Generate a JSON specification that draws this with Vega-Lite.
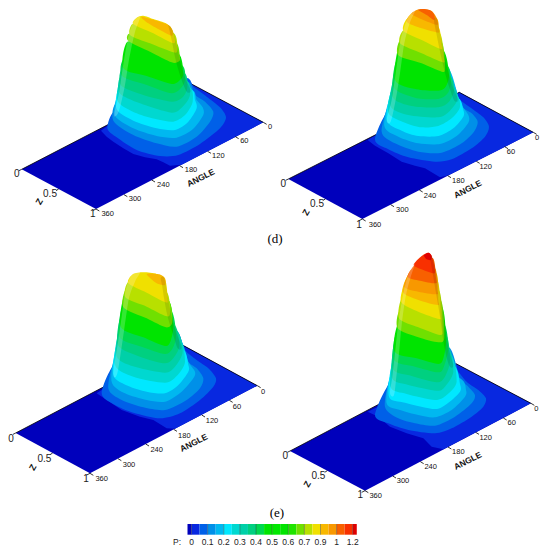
{"$schema":"https://vega.github.io/schema/vega-lite/v6.json","padding":0,"spacing":0,"config":{"view":{"stroke":null},"font":"Liberation Sans","header":{"title":null,"labels":false,"labelFontSize":0,"labelPadding":0,"titlePadding":0}},"datasets":{"surf":[
{"p":1,"k":0,"x":65,"y":508},{"p":1,"k":0,"x":288,"y":627},{"p":1,"k":0,"x":790,"y":367},{"p":1,"k":0,"x":567,"y":248},
{"p":1,"k":1,"x":303,"y":392},{"p":1,"k":1,"x":320,"y":410},{"p":1,"k":1,"x":340,"y":425},{"p":1,"k":1,"x":370,"y":445},{"p":1,"k":1,"x":400,"y":462},{"p":1,"k":1,"x":435,"y":472},{"p":1,"k":1,"x":470,"y":478},{"p":1,"k":1,"x":490,"y":487},{"p":1,"k":1,"x":510,"y":497},{"p":1,"k":1,"x":545,"y":494},{"p":1,"k":1,"x":790,"y":367},{"p":1,"k":1,"x":567,"y":248},{"p":1,"k":1,"x":335,"y":368},
{"p":1,"k":2,"x":322,"y":384},{"p":1,"k":2,"x":350,"y":412},{"p":1,"k":2,"x":410,"y":450},{"p":1,"k":2,"x":480,"y":468},{"p":1,"k":2,"x":535,"y":465},{"p":1,"k":2,"x":600,"y":432},{"p":1,"k":2,"x":660,"y":385},{"p":1,"k":2,"x":678,"y":352},{"p":1,"k":2,"x":660,"y":322},{"p":1,"k":2,"x":620,"y":290},{"p":1,"k":2,"x":582,"y":262},{"p":1,"k":2,"x":556,"y":235},{"p":1,"k":2,"x":450,"y":300},{"p":1,"k":2,"x":347,"y":330},
{"p":1,"k":3,"x":340,"y":362},{"p":1,"k":3,"x":400,"y":405},{"p":1,"k":3,"x":470,"y":430},{"p":1,"k":3,"x":530,"y":440},{"p":1,"k":3,"x":590,"y":410},{"p":1,"k":3,"x":630,"y":365},{"p":1,"k":3,"x":640,"y":335},{"p":1,"k":3,"x":615,"y":305},{"p":1,"k":3,"x":585,"y":285},{"p":1,"k":3,"x":560,"y":245},{"p":1,"k":3,"x":450,"y":300},{"p":1,"k":3,"x":352,"y":305},
{"p":1,"k":4,"x":346,"y":348},{"p":1,"k":4,"x":400,"y":385},{"p":1,"k":4,"x":470,"y":408},{"p":1,"k":4,"x":530,"y":413},{"p":1,"k":4,"x":578,"y":388},{"p":1,"k":4,"x":610,"y":345},{"p":1,"k":4,"x":608,"y":322},{"p":1,"k":4,"x":590,"y":300},{"p":1,"k":4,"x":572,"y":270},{"p":1,"k":4,"x":450,"y":300},{"p":1,"k":4,"x":356,"y":290},
{"p":1,"k":5,"x":350,"y":328},{"p":1,"k":5,"x":400,"y":362},{"p":1,"k":5,"x":470,"y":385},{"p":1,"k":5,"x":525,"y":390},{"p":1,"k":5,"x":565,"y":365},{"p":1,"k":5,"x":590,"y":325},{"p":1,"k":5,"x":585,"y":300},{"p":1,"k":5,"x":570,"y":268},{"p":1,"k":5,"x":450,"y":280},{"p":1,"k":5,"x":360,"y":265},
{"p":1,"k":6,"x":354,"y":305},{"p":1,"k":6,"x":410,"y":340},{"p":1,"k":6,"x":470,"y":358},{"p":1,"k":6,"x":520,"y":365},{"p":1,"k":6,"x":555,"y":345},{"p":1,"k":6,"x":578,"y":305},{"p":1,"k":6,"x":565,"y":258},{"p":1,"k":6,"x":450,"y":250},{"p":1,"k":6,"x":363,"y":245},
{"p":1,"k":7,"x":358,"y":278},{"p":1,"k":7,"x":420,"y":310},{"p":1,"k":7,"x":515,"y":338},{"p":1,"k":7,"x":550,"y":318},{"p":1,"k":7,"x":570,"y":285},{"p":1,"k":7,"x":558,"y":240},{"p":1,"k":7,"x":450,"y":230},{"p":1,"k":7,"x":366,"y":225},
{"p":1,"k":8,"x":362,"y":255},{"p":1,"k":8,"x":430,"y":285},{"p":1,"k":8,"x":515,"y":305},{"p":1,"k":8,"x":548,"y":292},{"p":1,"k":8,"x":562,"y":262},{"p":1,"k":8,"x":550,"y":215},{"p":1,"k":8,"x":450,"y":210},{"p":1,"k":8,"x":370,"y":200},
{"p":1,"k":9,"x":366,"y":228},{"p":1,"k":9,"x":440,"y":255},{"p":1,"k":9,"x":515,"y":280},{"p":1,"k":9,"x":545,"y":262},{"p":1,"k":9,"x":555,"y":238},{"p":1,"k":9,"x":545,"y":195},{"p":1,"k":9,"x":450,"y":180},{"p":1,"k":9,"x":373,"y":175},
{"p":1,"k":10,"x":370,"y":205},{"p":1,"k":10,"x":440,"y":228},{"p":1,"k":10,"x":515,"y":252},{"p":1,"k":10,"x":540,"y":240},{"p":1,"k":10,"x":550,"y":220},{"p":1,"k":10,"x":535,"y":160},{"p":1,"k":10,"x":450,"y":140},{"p":1,"k":10,"x":382,"y":125},
{"p":1,"k":14,"x":385,"y":123},{"p":1,"k":14,"x":450,"y":155},{"p":1,"k":14,"x":515,"y":187},{"p":1,"k":14,"x":535,"y":185},{"p":1,"k":14,"x":540,"y":175},{"p":1,"k":14,"x":527,"y":125},{"p":1,"k":14,"x":450,"y":110},{"p":1,"k":14,"x":390,"y":100},
{"p":1,"k":15,"x":390,"y":105},{"p":1,"k":15,"x":450,"y":130},{"p":1,"k":15,"x":520,"y":157},{"p":1,"k":15,"x":532,"y":150},{"p":1,"k":15,"x":522,"y":100},{"p":1,"k":15,"x":450,"y":85},{"p":1,"k":15,"x":400,"y":70},
{"p":1,"k":16,"x":400,"y":72},{"p":1,"k":16,"x":460,"y":100},{"p":1,"k":16,"x":522,"y":130},{"p":1,"k":16,"x":518,"y":92},{"p":1,"k":16,"x":500,"y":71},{"p":1,"k":16,"x":460,"y":57},{"p":1,"k":16,"x":430,"y":47},{"p":1,"k":16,"x":412,"y":52},
{"p":1,"k":17,"x":425,"y":50},{"p":1,"k":17,"x":500,"y":72},{"p":1,"k":17,"x":517,"y":90},{"p":1,"k":17,"x":515,"y":107},{"p":1,"k":17,"x":480,"y":90},{"p":1,"k":17,"x":445,"y":70},
{"p":2,"k":0,"x":40,"y":537},{"p":2,"k":0,"x":262,"y":657},{"p":2,"k":0,"x":775,"y":397},{"p":2,"k":0,"x":553,"y":277},
{"p":2,"k":1,"x":278,"y":420},{"p":2,"k":1,"x":300,"y":437},{"p":2,"k":1,"x":340,"y":460},{"p":2,"k":1,"x":380,"y":485},{"p":2,"k":1,"x":420,"y":497},{"p":2,"k":1,"x":450,"y":505},{"p":2,"k":1,"x":475,"y":520},{"p":2,"k":1,"x":495,"y":532},{"p":2,"k":1,"x":520,"y":526},{"p":2,"k":1,"x":775,"y":397},{"p":2,"k":1,"x":553,"y":277},{"p":2,"k":1,"x":310,"y":400},
{"p":2,"k":2,"x":300,"y":418},{"p":2,"k":2,"x":340,"y":448},{"p":2,"k":2,"x":400,"y":472},{"p":2,"k":2,"x":480,"y":485},{"p":2,"k":2,"x":530,"y":478},{"p":2,"k":2,"x":590,"y":445},{"p":2,"k":2,"x":630,"y":410},{"p":2,"k":2,"x":642,"y":380},{"p":2,"k":2,"x":625,"y":352},{"p":2,"k":2,"x":585,"y":322},{"p":2,"k":2,"x":548,"y":292},{"p":2,"k":2,"x":520,"y":225},{"p":2,"k":2,"x":430,"y":300},{"p":2,"k":2,"x":345,"y":325},
{"p":2,"k":3,"x":320,"y":395},{"p":2,"k":3,"x":360,"y":430},{"p":2,"k":3,"x":430,"y":455},{"p":2,"k":3,"x":500,"y":458},{"p":2,"k":3,"x":560,"y":430},{"p":2,"k":3,"x":597,"y":395},{"p":2,"k":3,"x":608,"y":365},{"p":2,"k":3,"x":590,"y":340},{"p":2,"k":3,"x":560,"y":318},{"p":2,"k":3,"x":525,"y":240},{"p":2,"k":3,"x":430,"y":280},{"p":2,"k":3,"x":350,"y":300},
{"p":2,"k":4,"x":328,"y":378},{"p":2,"k":4,"x":370,"y":410},{"p":2,"k":4,"x":430,"y":430},{"p":2,"k":4,"x":495,"y":432},{"p":2,"k":4,"x":545,"y":408},{"p":2,"k":4,"x":580,"y":368},{"p":2,"k":4,"x":580,"y":345},{"p":2,"k":4,"x":555,"y":305},{"p":2,"k":4,"x":515,"y":200},{"p":2,"k":4,"x":430,"y":280},{"p":2,"k":4,"x":353,"y":280},
{"p":2,"k":5,"x":335,"y":360},{"p":2,"k":5,"x":380,"y":392},{"p":2,"k":5,"x":430,"y":408},{"p":2,"k":5,"x":490,"y":408},{"p":2,"k":5,"x":535,"y":385},{"p":2,"k":5,"x":565,"y":350},{"p":2,"k":5,"x":565,"y":330},{"p":2,"k":5,"x":545,"y":290},{"p":2,"k":5,"x":430,"y":270},{"p":2,"k":5,"x":356,"y":260},
{"p":2,"k":6,"x":340,"y":338},{"p":2,"k":6,"x":390,"y":368},{"p":2,"k":6,"x":440,"y":382},{"p":2,"k":6,"x":490,"y":378},{"p":2,"k":6,"x":530,"y":355},{"p":2,"k":6,"x":555,"y":320},{"p":2,"k":6,"x":538,"y":278},{"p":2,"k":6,"x":430,"y":250},{"p":2,"k":6,"x":356,"y":260},
{"p":2,"k":7,"x":346,"y":318},{"p":2,"k":7,"x":400,"y":345},{"p":2,"k":7,"x":490,"y":352},{"p":2,"k":7,"x":525,"y":332},{"p":2,"k":7,"x":547,"y":298},{"p":2,"k":7,"x":530,"y":255},{"p":2,"k":7,"x":430,"y":230},{"p":2,"k":7,"x":360,"y":235},
{"p":2,"k":8,"x":352,"y":290},{"p":2,"k":8,"x":410,"y":318},{"p":2,"k":8,"x":490,"y":322},{"p":2,"k":8,"x":522,"y":305},{"p":2,"k":8,"x":537,"y":270},{"p":2,"k":8,"x":522,"y":225},{"p":2,"k":8,"x":430,"y":210},{"p":2,"k":8,"x":365,"y":200},
{"p":2,"k":9,"x":356,"y":262},{"p":2,"k":9,"x":420,"y":293},{"p":2,"k":9,"x":490,"y":297},{"p":2,"k":9,"x":518,"y":280},{"p":2,"k":9,"x":528,"y":245},{"p":2,"k":9,"x":515,"y":195},{"p":2,"k":9,"x":430,"y":190},{"p":2,"k":9,"x":368,"y":175},
{"p":2,"k":10,"x":360,"y":240},{"p":2,"k":10,"x":425,"y":268},{"p":2,"k":10,"x":490,"y":272},{"p":2,"k":10,"x":512,"y":260},{"p":2,"k":10,"x":522,"y":225},{"p":2,"k":10,"x":505,"y":150},{"p":2,"k":10,"x":430,"y":120},{"p":2,"k":10,"x":376,"y":125},
{"p":2,"k":14,"x":369,"y":165},{"p":2,"k":14,"x":440,"y":190},{"p":2,"k":14,"x":500,"y":215},{"p":2,"k":14,"x":510,"y":205},{"p":2,"k":14,"x":500,"y":125},{"p":2,"k":14,"x":440,"y":110},{"p":2,"k":14,"x":379,"y":115},
{"p":2,"k":15,"x":375,"y":130},{"p":2,"k":15,"x":440,"y":160},{"p":2,"k":15,"x":503,"y":187},{"p":2,"k":15,"x":507,"y":175},{"p":2,"k":15,"x":495,"y":100},{"p":2,"k":15,"x":440,"y":85},{"p":2,"k":15,"x":386,"y":90},
{"p":2,"k":16,"x":385,"y":92},{"p":2,"k":16,"x":440,"y":120},{"p":2,"k":16,"x":497,"y":147},{"p":2,"k":16,"x":500,"y":135},{"p":2,"k":16,"x":490,"y":80},{"p":2,"k":16,"x":440,"y":60},{"p":2,"k":16,"x":398,"y":55},
{"p":2,"k":17,"x":395,"y":65},{"p":2,"k":17,"x":440,"y":85},{"p":2,"k":17,"x":490,"y":98},{"p":2,"k":17,"x":492,"y":85},{"p":2,"k":17,"x":485,"y":55},{"p":2,"k":17,"x":440,"y":45},{"p":2,"k":17,"x":412,"y":38},
{"p":2,"k":18,"x":410,"y":42},{"p":2,"k":18,"x":440,"y":58},{"p":2,"k":18,"x":487,"y":75},{"p":2,"k":18,"x":484,"y":52},{"p":2,"k":18,"x":470,"y":33},{"p":2,"k":18,"x":445,"y":27},{"p":2,"k":18,"x":425,"y":30},
{"p":2,"k":19,"x":430,"y":30},{"p":2,"k":19,"x":455,"y":45},{"p":2,"k":19,"x":477,"y":60},{"p":2,"k":19,"x":478,"y":45},{"p":2,"k":19,"x":468,"y":32},{"p":2,"k":19,"x":448,"y":27},
{"p":3,"k":0,"x":47,"y":549},{"p":3,"k":0,"x":270,"y":670},{"p":3,"k":0,"x":772,"y":407},{"p":3,"k":0,"x":549,"y":286},
{"p":3,"k":1,"x":290,"y":430},{"p":3,"k":1,"x":320,"y":450},{"p":3,"k":1,"x":365,"y":480},{"p":3,"k":1,"x":420,"y":500},{"p":3,"k":1,"x":460,"y":510},{"p":3,"k":1,"x":500,"y":535},{"p":3,"k":1,"x":525,"y":536},{"p":3,"k":1,"x":772,"y":407},{"p":3,"k":1,"x":549,"y":286},{"p":3,"k":1,"x":327,"y":405},
{"p":3,"k":2,"x":305,"y":430},{"p":3,"k":2,"x":345,"y":465},{"p":3,"k":2,"x":400,"y":488},{"p":3,"k":2,"x":480,"y":505},{"p":3,"k":2,"x":540,"y":490},{"p":3,"k":2,"x":600,"y":450},{"p":3,"k":2,"x":640,"y":410},{"p":3,"k":2,"x":648,"y":385},{"p":3,"k":2,"x":625,"y":355},{"p":3,"k":2,"x":590,"y":330},{"p":3,"k":2,"x":555,"y":300},{"p":3,"k":2,"x":525,"y":240},{"p":3,"k":2,"x":430,"y":300},{"p":3,"k":2,"x":345,"y":340},
{"p":3,"k":3,"x":325,"y":415},{"p":3,"k":3,"x":365,"y":450},{"p":3,"k":3,"x":430,"y":472},{"p":3,"k":3,"x":495,"y":480},{"p":3,"k":3,"x":560,"y":450},{"p":3,"k":3,"x":600,"y":415},{"p":3,"k":3,"x":610,"y":385},{"p":3,"k":3,"x":590,"y":355},{"p":3,"k":3,"x":560,"y":330},{"p":3,"k":3,"x":530,"y":250},{"p":3,"k":3,"x":430,"y":300},{"p":3,"k":3,"x":350,"y":320},
{"p":3,"k":4,"x":335,"y":395},{"p":3,"k":4,"x":375,"y":430},{"p":3,"k":4,"x":440,"y":450},{"p":3,"k":4,"x":495,"y":455},{"p":3,"k":4,"x":545,"y":425},{"p":3,"k":4,"x":580,"y":385},{"p":3,"k":4,"x":585,"y":365},{"p":3,"k":4,"x":565,"y":335},{"p":3,"k":4,"x":535,"y":265},{"p":3,"k":4,"x":430,"y":290},{"p":3,"k":4,"x":352,"y":300},
{"p":3,"k":5,"x":340,"y":375},{"p":3,"k":5,"x":385,"y":408},{"p":3,"k":5,"x":440,"y":425},{"p":3,"k":5,"x":495,"y":430},{"p":3,"k":5,"x":535,"y":405},{"p":3,"k":5,"x":565,"y":365},{"p":3,"k":5,"x":565,"y":345},{"p":3,"k":5,"x":545,"y":295},{"p":3,"k":5,"x":430,"y":270},{"p":3,"k":5,"x":355,"y":275},
{"p":3,"k":6,"x":345,"y":345},{"p":3,"k":6,"x":400,"y":380},{"p":3,"k":6,"x":495,"y":398},{"p":3,"k":6,"x":530,"y":378},{"p":3,"k":6,"x":555,"y":335},{"p":3,"k":6,"x":535,"y":262},{"p":3,"k":6,"x":430,"y":250},{"p":3,"k":6,"x":360,"y":245},
{"p":3,"k":7,"x":350,"y":320},{"p":3,"k":7,"x":410,"y":352},{"p":3,"k":7,"x":495,"y":368},{"p":3,"k":7,"x":525,"y":350},{"p":3,"k":7,"x":548,"y":305},{"p":3,"k":7,"x":528,"y":240},{"p":3,"k":7,"x":430,"y":230},{"p":3,"k":7,"x":363,"y":225},
{"p":3,"k":8,"x":354,"y":285},{"p":3,"k":8,"x":420,"y":320},{"p":3,"k":8,"x":495,"y":340},{"p":3,"k":8,"x":522,"y":322},{"p":3,"k":8,"x":538,"y":285},{"p":3,"k":8,"x":520,"y":220},{"p":3,"k":8,"x":430,"y":210},{"p":3,"k":8,"x":366,"y":195},
{"p":3,"k":9,"x":358,"y":260},{"p":3,"k":9,"x":425,"y":290},{"p":3,"k":9,"x":495,"y":312},{"p":3,"k":9,"x":518,"y":295},{"p":3,"k":9,"x":528,"y":255},{"p":3,"k":9,"x":512,"y":180},{"p":3,"k":9,"x":430,"y":170},{"p":3,"k":9,"x":370,"y":165},
{"p":3,"k":10,"x":362,"y":230},{"p":3,"k":10,"x":430,"y":262},{"p":3,"k":10,"x":495,"y":288},{"p":3,"k":10,"x":512,"y":272},{"p":3,"k":10,"x":520,"y":225},{"p":3,"k":10,"x":505,"y":150},{"p":3,"k":10,"x":430,"y":140},{"p":3,"k":10,"x":376,"y":130},
{"p":3,"k":14,"x":370,"y":172},{"p":3,"k":14,"x":440,"y":205},{"p":3,"k":14,"x":498,"y":232},{"p":3,"k":14,"x":517,"y":215},{"p":3,"k":14,"x":505,"y":150},{"p":3,"k":14,"x":430,"y":130},{"p":3,"k":14,"x":380,"y":115},
{"p":3,"k":15,"x":376,"y":142},{"p":3,"k":15,"x":440,"y":170},{"p":3,"k":15,"x":497,"y":198},{"p":3,"k":15,"x":510,"y":190},{"p":3,"k":15,"x":500,"y":125},{"p":3,"k":15,"x":430,"y":105},{"p":3,"k":15,"x":385,"y":95},
{"p":3,"k":16,"x":385,"y":100},{"p":3,"k":16,"x":440,"y":128},{"p":3,"k":16,"x":497,"y":157},{"p":3,"k":16,"x":503,"y":148},{"p":3,"k":16,"x":496,"y":90},{"p":3,"k":16,"x":470,"y":72},{"p":3,"k":16,"x":430,"y":67},{"p":3,"k":16,"x":398,"y":73},
{"p":3,"k":17,"x":440,"y":72},{"p":3,"k":17,"x":470,"y":100},{"p":3,"k":17,"x":495,"y":105},{"p":3,"k":17,"x":495,"y":85},{"p":3,"k":17,"x":478,"y":73},
{"p":4,"k":0,"x":45,"y":603},{"p":4,"k":0,"x":270,"y":722},{"p":4,"k":0,"x":768,"y":460},{"p":4,"k":0,"x":543,"y":341},
{"p":4,"k":1,"x":278,"y":485},{"p":4,"k":1,"x":310,"y":500},{"p":4,"k":1,"x":345,"y":530},{"p":4,"k":1,"x":395,"y":550},{"p":4,"k":1,"x":445,"y":565},{"p":4,"k":1,"x":470,"y":590},{"p":4,"k":1,"x":505,"y":598},{"p":4,"k":1,"x":768,"y":460},{"p":4,"k":1,"x":543,"y":341},{"p":4,"k":1,"x":330,"y":460},
{"p":4,"k":2,"x":300,"y":495},{"p":4,"k":2,"x":340,"y":520},{"p":4,"k":2,"x":400,"y":540},{"p":4,"k":2,"x":480,"y":550},{"p":4,"k":2,"x":530,"y":535},{"p":4,"k":2,"x":590,"y":500},{"p":4,"k":2,"x":625,"y":470},{"p":4,"k":2,"x":633,"y":445},{"p":4,"k":2,"x":610,"y":420},{"p":4,"k":2,"x":575,"y":395},{"p":4,"k":2,"x":540,"y":350},{"p":4,"k":2,"x":510,"y":290},{"p":4,"k":2,"x":430,"y":350},{"p":4,"k":2,"x":347,"y":395},
{"p":4,"k":3,"x":330,"y":470},{"p":4,"k":3,"x":370,"y":505},{"p":4,"k":3,"x":420,"y":520},{"p":4,"k":3,"x":480,"y":527},{"p":4,"k":3,"x":540,"y":500},{"p":4,"k":3,"x":590,"y":460},{"p":4,"k":3,"x":600,"y":435},{"p":4,"k":3,"x":580,"y":410},{"p":4,"k":3,"x":555,"y":385},{"p":4,"k":3,"x":520,"y":290},{"p":4,"k":3,"x":430,"y":340},{"p":4,"k":3,"x":350,"y":380},
{"p":4,"k":4,"x":335,"y":460},{"p":4,"k":4,"x":375,"y":480},{"p":4,"k":4,"x":430,"y":495},{"p":4,"k":4,"x":480,"y":502},{"p":4,"k":4,"x":530,"y":480},{"p":4,"k":4,"x":570,"y":440},{"p":4,"k":4,"x":573,"y":420},{"p":4,"k":4,"x":555,"y":385},{"p":4,"k":4,"x":430,"y":340},{"p":4,"k":4,"x":352,"y":365},
{"p":4,"k":5,"x":342,"y":440},{"p":4,"k":5,"x":390,"y":458},{"p":4,"k":5,"x":480,"y":477},{"p":4,"k":5,"x":520,"y":458},{"p":4,"k":5,"x":555,"y":425},{"p":4,"k":5,"x":555,"y":402},{"p":4,"k":5,"x":535,"y":345},{"p":4,"k":5,"x":430,"y":330},{"p":4,"k":5,"x":355,"y":340},
{"p":4,"k":6,"x":347,"y":412},{"p":4,"k":6,"x":395,"y":432},{"p":4,"k":6,"x":480,"y":450},{"p":4,"k":6,"x":515,"y":435},{"p":4,"k":6,"x":545,"y":395},{"p":4,"k":6,"x":525,"y":310},{"p":4,"k":6,"x":430,"y":310},{"p":4,"k":6,"x":358,"y":320},
{"p":4,"k":7,"x":351,"y":385},{"p":4,"k":7,"x":400,"y":405},{"p":4,"k":7,"x":485,"y":422},{"p":4,"k":7,"x":510,"y":410},{"p":4,"k":7,"x":535,"y":365},{"p":4,"k":7,"x":518,"y":290},{"p":4,"k":7,"x":430,"y":290},{"p":4,"k":7,"x":360,"y":295},
{"p":4,"k":8,"x":354,"y":358},{"p":4,"k":8,"x":410,"y":378},{"p":4,"k":8,"x":485,"y":397},{"p":4,"k":8,"x":510,"y":380},{"p":4,"k":8,"x":525,"y":330},{"p":4,"k":8,"x":510,"y":250},{"p":4,"k":8,"x":430,"y":270},{"p":4,"k":8,"x":362,"y":270},
{"p":4,"k":9,"x":357,"y":330},{"p":4,"k":9,"x":420,"y":350},{"p":4,"k":9,"x":488,"y":367},{"p":4,"k":9,"x":505,"y":355},{"p":4,"k":9,"x":520,"y":295},{"p":4,"k":9,"x":505,"y":220},{"p":4,"k":9,"x":430,"y":250},{"p":4,"k":9,"x":365,"y":250},
{"p":4,"k":10,"x":359,"y":305},{"p":4,"k":10,"x":425,"y":325},{"p":4,"k":10,"x":490,"y":342},{"p":4,"k":10,"x":505,"y":325},{"p":4,"k":10,"x":513,"y":270},{"p":4,"k":10,"x":500,"y":170},{"p":4,"k":10,"x":430,"y":200},{"p":4,"k":10,"x":370,"y":220},
{"p":4,"k":14,"x":368,"y":235},{"p":4,"k":14,"x":430,"y":262},{"p":4,"k":14,"x":490,"y":277},{"p":4,"k":14,"x":508,"y":262},{"p":4,"k":14,"x":497,"y":150},{"p":4,"k":14,"x":430,"y":170},{"p":4,"k":14,"x":375,"y":180},
{"p":4,"k":15,"x":372,"y":205},{"p":4,"k":15,"x":430,"y":232},{"p":4,"k":15,"x":495,"y":255},{"p":4,"k":15,"x":503,"y":235},{"p":4,"k":15,"x":492,"y":120},{"p":4,"k":15,"x":430,"y":130},{"p":4,"k":15,"x":382,"y":140},
{"p":4,"k":16,"x":378,"y":155},{"p":4,"k":16,"x":430,"y":185},{"p":4,"k":16,"x":493,"y":207},{"p":4,"k":16,"x":497,"y":195},{"p":4,"k":16,"x":487,"y":90},{"p":4,"k":16,"x":430,"y":105},{"p":4,"k":16,"x":392,"y":100},
{"p":4,"k":17,"x":383,"y":125},{"p":4,"k":17,"x":430,"y":150},{"p":4,"k":17,"x":488,"y":165},{"p":4,"k":17,"x":490,"y":150},{"p":4,"k":17,"x":484,"y":70},{"p":4,"k":17,"x":430,"y":85},{"p":4,"k":17,"x":400,"y":75},
{"p":4,"k":18,"x":388,"y":110},{"p":4,"k":18,"x":430,"y":125},{"p":4,"k":18,"x":485,"y":133},{"p":4,"k":18,"x":487,"y":120},{"p":4,"k":18,"x":480,"y":55},{"p":4,"k":18,"x":430,"y":75},{"p":4,"k":18,"x":408,"y":60},
{"p":4,"k":19,"x":398,"y":80},{"p":4,"k":19,"x":435,"y":92},{"p":4,"k":19,"x":482,"y":100},{"p":4,"k":19,"x":483,"y":85},{"p":4,"k":19,"x":474,"y":25},{"p":4,"k":19,"x":430,"y":40},{"p":4,"k":19,"x":418,"y":45},
{"p":4,"k":20,"x":416,"y":45},{"p":4,"k":20,"x":445,"y":60},{"p":4,"k":20,"x":478,"y":70},{"p":4,"k":20,"x":478,"y":50},{"p":4,"k":20,"x":470,"y":18},{"p":4,"k":20,"x":460,"y":8},{"p":4,"k":20,"x":440,"y":18},
{"p":4,"k":21,"x":447,"y":16},{"p":4,"k":21,"x":460,"y":8},{"p":4,"k":21,"x":469,"y":16},{"p":4,"k":21,"x":468,"y":30},{"p":4,"k":21,"x":455,"y":28},
{"p":1,"s":"l","x":342,"y":345},{"p":1,"s":"l","x":357,"y":280},{"p":1,"s":"l","x":368,"y":205},{"p":1,"s":"l","x":384,"y":115},{"p":1,"s":"l","x":400,"y":65},{"p":1,"s":"l","x":420,"y":52},{"p":1,"s":"l","x":404,"y":100},{"p":1,"s":"l","x":386,"y":185},{"p":1,"s":"l","x":374,"y":260},{"p":1,"s":"l","x":356,"y":335},
{"p":1,"s":"r","x":505,"y":75},{"p":1,"s":"r","x":518,"y":90},{"p":1,"s":"r","x":528,"y":125},{"p":1,"s":"r","x":540,"y":180},{"p":1,"s":"r","x":556,"y":235},{"p":1,"s":"r","x":572,"y":272},{"p":1,"s":"r","x":560,"y":275},{"p":1,"s":"r","x":543,"y":235},{"p":1,"s":"r","x":527,"y":180},{"p":1,"s":"r","x":516,"y":125},{"p":1,"s":"r","x":508,"y":90},
{"p":2,"s":"l","x":335,"y":360},{"p":2,"s":"l","x":350,"y":300},{"p":2,"s":"l","x":362,"y":220},{"p":2,"s":"l","x":375,"y":130},{"p":2,"s":"l","x":385,"y":90},{"p":2,"s":"l","x":400,"y":52},{"p":2,"s":"l","x":420,"y":32},{"p":2,"s":"l","x":404,"y":70},{"p":2,"s":"l","x":388,"y":130},{"p":2,"s":"l","x":375,"y":220},{"p":2,"s":"l","x":362,"y":300},{"p":2,"s":"l","x":347,"y":365},
{"p":2,"s":"r","x":485,"y":55},{"p":2,"s":"r","x":495,"y":100},{"p":2,"s":"r","x":505,"y":150},{"p":2,"s":"r","x":520,"y":215},{"p":2,"s":"r","x":535,"y":265},{"p":2,"s":"r","x":550,"y":300},{"p":2,"s":"r","x":538,"y":302},{"p":2,"s":"r","x":524,"y":265},{"p":2,"s":"r","x":509,"y":215},{"p":2,"s":"r","x":494,"y":150},{"p":2,"s":"r","x":484,"y":100},{"p":2,"s":"r","x":477,"y":60},
{"p":3,"s":"l","x":340,"y":370},{"p":3,"s":"l","x":355,"y":270},{"p":3,"s":"l","x":365,"y":200},{"p":3,"s":"l","x":375,"y":130},{"p":3,"s":"l","x":385,"y":95},{"p":3,"s":"l","x":400,"y":70},{"p":3,"s":"l","x":420,"y":67},{"p":3,"s":"l","x":405,"y":95},{"p":3,"s":"l","x":388,"y":140},{"p":3,"s":"l","x":378,"y":200},{"p":3,"s":"l","x":368,"y":270},{"p":3,"s":"l","x":352,"y":370},
{"p":3,"s":"r","x":490,"y":80},{"p":3,"s":"r","x":497,"y":100},{"p":3,"s":"r","x":505,"y":150},{"p":3,"s":"r","x":515,"y":200},{"p":3,"s":"r","x":530,"y":250},{"p":3,"s":"r","x":545,"y":292},{"p":3,"s":"r","x":533,"y":295},{"p":3,"s":"r","x":518,"y":250},{"p":3,"s":"r","x":503,"y":200},{"p":3,"s":"r","x":493,"y":150},{"p":3,"s":"r","x":486,"y":105},{"p":3,"s":"r","x":482,"y":85},
{"p":4,"s":"l","x":345,"y":430},{"p":4,"s":"l","x":352,"y":380},{"p":4,"s":"l","x":360,"y":310},{"p":4,"s":"l","x":370,"y":220},{"p":4,"s":"l","x":385,"y":130},{"p":4,"s":"l","x":400,"y":75},{"p":4,"s":"l","x":420,"y":40},{"p":4,"s":"l","x":406,"y":85},{"p":4,"s":"l","x":392,"y":140},{"p":4,"s":"l","x":380,"y":225},{"p":4,"s":"l","x":372,"y":310},{"p":4,"s":"l","x":364,"y":380},{"p":4,"s":"l","x":357,"y":435},
{"p":4,"s":"r","x":472,"y":20},{"p":4,"s":"r","x":485,"y":70},{"p":4,"s":"r","x":495,"y":130},{"p":4,"s":"r","x":507,"y":200},{"p":4,"s":"r","x":520,"y":290},{"p":4,"s":"r","x":535,"y":345},{"p":4,"s":"r","x":523,"y":347},{"p":4,"s":"r","x":508,"y":290},{"p":4,"s":"r","x":495,"y":200},{"p":4,"s":"r","x":483,"y":130},{"p":4,"s":"r","x":473,"y":70},{"p":4,"s":"r","x":466,"y":25},
{"p":1,"x":65,"y":508,"x2":567,"y2":248},{"p":1,"x":567,"y":248,"x2":790,"y2":367},{"p":1,"x":65,"y":508,"x2":57,"y2":512},{"p":1,"x":176,"y":567,"x2":168,"y2":572},{"p":1,"x":288,"y":627,"x2":278,"y2":632},{"p":1,"x":288,"y":627,"x2":298,"y2":633},{"p":1,"x":372,"y":584,"x2":382,"y2":590},{"p":1,"x":455,"y":540,"x2":465,"y2":546},{"p":1,"x":539,"y":497,"x2":549,"y2":503},{"p":1,"x":623,"y":454,"x2":633,"y2":460},{"p":1,"x":706,"y":410,"x2":716,"y2":416},{"p":1,"x":790,"y":367,"x2":800,"y2":373},
{"p":2,"x":40,"y":537,"x2":553,"y2":277},{"p":2,"x":553,"y":277,"x2":775,"y2":397},{"p":2,"x":40,"y":537,"x2":32,"y2":541},{"p":2,"x":151,"y":597,"x2":143,"y2":602},{"p":2,"x":262,"y":657,"x2":252,"y2":662},{"p":2,"x":262,"y":657,"x2":272,"y2":663},{"p":2,"x":347,"y":614,"x2":357,"y2":620},{"p":2,"x":433,"y":570,"x2":443,"y2":576},{"p":2,"x":518,"y":527,"x2":528,"y2":533},{"p":2,"x":604,"y":484,"x2":614,"y2":490},{"p":2,"x":689,"y":440,"x2":699,"y2":446},{"p":2,"x":775,"y":397,"x2":785,"y2":403},
{"p":3,"x":47,"y":549,"x2":549,"y2":286},{"p":3,"x":549,"y":286,"x2":772,"y2":407},{"p":3,"x":47,"y":549,"x2":39,"y2":553},{"p":3,"x":158,"y":609,"x2":150,"y2":614},{"p":3,"x":270,"y":670,"x2":260,"y2":675},{"p":3,"x":270,"y":670,"x2":280,"y2":676},{"p":3,"x":354,"y":626,"x2":364,"y2":632},{"p":3,"x":437,"y":582,"x2":447,"y2":588},{"p":3,"x":521,"y":538,"x2":531,"y2":544},{"p":3,"x":605,"y":495,"x2":615,"y2":501},{"p":3,"x":688,"y":451,"x2":698,"y2":457},{"p":3,"x":772,"y":407,"x2":782,"y2":413},
{"p":4,"x":45,"y":603,"x2":543,"y2":341},{"p":4,"x":543,"y":341,"x2":768,"y2":460},{"p":4,"x":45,"y":603,"x2":37,"y2":607},{"p":4,"x":157,"y":662,"x2":149,"y2":667},{"p":4,"x":270,"y":722,"x2":260,"y2":727},{"p":4,"x":270,"y":722,"x2":280,"y2":728},{"p":4,"x":353,"y":678,"x2":363,"y2":684},{"p":4,"x":436,"y":635,"x2":446,"y2":641},{"p":4,"x":519,"y":591,"x2":529,"y2":597},{"p":4,"x":602,"y":547,"x2":612,"y2":553},{"p":4,"x":685,"y":504,"x2":695,"y2":510},{"p":4,"x":768,"y":460,"x2":778,"y2":466},
{"p":1,"c":"a","t":"360","x":323,"y":642},{"p":1,"c":"a","t":"300","x":405,"y":598},{"p":1,"c":"a","t":"240","x":490,"y":555},{"p":1,"c":"a","t":"180","x":573,"y":510},{"p":1,"c":"a","t":"120","x":655,"y":467},{"p":1,"c":"a","t":"60","x":733,"y":424},{"p":1,"c":"a","t":"0","x":810,"y":381},{"p":1,"c":"z","t":"0","x":50,"y":522},{"p":1,"c":"z","t":"0.5","x":150,"y":582},{"p":1,"c":"z","t":"1","x":278,"y":642},{"p":1,"c":"A","t":"ANGLE","x":602,"y":533},{"p":1,"c":"Z","t":"Z","x":118,"y":605},
{"p":2,"c":"a","t":"360","x":300,"y":674},{"p":2,"c":"a","t":"300","x":382,"y":630},{"p":2,"c":"a","t":"240","x":465,"y":587},{"p":2,"c":"a","t":"180","x":550,"y":543},{"p":2,"c":"a","t":"120","x":632,"y":500},{"p":2,"c":"a","t":"60","x":708,"y":456},{"p":2,"c":"a","t":"0","x":786,"y":413},{"p":2,"c":"z","t":"0","x":25,"y":553},{"p":2,"c":"z","t":"0.5","x":126,"y":612},{"p":2,"c":"z","t":"1","x":252,"y":674},{"p":2,"c":"A","t":"ANGLE","x":578,"y":567},{"p":2,"c":"Z","t":"Z","x":93,"y":637},
{"p":3,"c":"a","t":"360","x":305,"y":687},{"p":3,"c":"a","t":"300","x":387,"y":645},{"p":3,"c":"a","t":"240","x":470,"y":601},{"p":3,"c":"a","t":"180","x":553,"y":557},{"p":3,"c":"a","t":"120","x":636,"y":513},{"p":3,"c":"a","t":"60","x":711,"y":470},{"p":3,"c":"a","t":"0","x":789,"y":426},{"p":3,"c":"z","t":"0","x":33,"y":567},{"p":3,"c":"z","t":"0.5","x":133,"y":626},{"p":3,"c":"z","t":"1","x":258,"y":687},{"p":3,"c":"A","t":"ANGLE","x":581,"y":578},{"p":3,"c":"Z","t":"Z","x":98,"y":652},
{"p":4,"c":"a","t":"360","x":302,"y":737},{"p":4,"c":"a","t":"300","x":384,"y":693},{"p":4,"c":"a","t":"240","x":467,"y":651},{"p":4,"c":"a","t":"180","x":550,"y":606},{"p":4,"c":"a","t":"120","x":632,"y":563},{"p":4,"c":"a","t":"60","x":710,"y":520},{"p":4,"c":"a","t":"0","x":784,"y":478},{"p":4,"c":"z","t":"0","x":31,"y":617},{"p":4,"c":"z","t":"0.5","x":130,"y":677},{"p":4,"c":"z","t":"1","x":256,"y":736},{"p":4,"c":"A","t":"ANGLE","x":578,"y":632},{"p":4,"c":"Z","t":"Z","x":97,"y":702},
{"p":1,"c":"d","t":"(d)","x":825,"y":717}
]},
"vconcat":[
{"data":{"name":"surf"},"facet":{"field":"p","type":"ordinal","header":{"labelExpr":"''","labelFontSize":0,"labelPadding":0,"title":null}},"columns":2,"spacing":0,"bounds":"flush","spec":{"width":275,"height":250,
"encoding":{"x":{"field":"x","type":"quantitative","axis":null,"scale":{"domain":[0,825],"nice":false,"zero":false}},"y":{"field":"y","type":"quantitative","axis":null,"scale":{"domain":[750,0],"nice":false,"zero":false}}},
"layer":[
{"transform":[{"filter":"datum.k<=1"}],"mark":{"type":"line","strokeWidth":0},"encoding":{"order":{"value":null},"fill":{"field":"k","type":"ordinal","legend":null,"scale":{"domain":[0,1,2,3,4,5,6,7,8,9,10,11,12,13,14,15,16,17,18,19,20,21],"range":["#0000bc","#0828e0","#0060e8","#0090e8","#00b8f0","#00e8ff","#00d8d0","#00d0a8","#00d080","#00d850","#00e400","#00e800","#00e400","#20e400","#70e000","#b8e000","#f0e000","#f8b800","#f89800","#f86000","#f83000","#e00000"]}}}},
{"transform":[{"filter":"isValid(datum.x2)"}],"mark":{"type":"rule","stroke":"#000","strokeWidth":0.8},"encoding":{"x2":{"field":"x2"},"y2":{"field":"y2"}}},
{"transform":[{"filter":"datum.k>=2"}],"mark":{"type":"line","strokeWidth":0,"interpolate":"cardinal-closed","tension":0.2},"encoding":{"order":{"value":null},"fill":{"field":"k","type":"ordinal","legend":null,"scale":{"domain":[0,1,2,3,4,5,6,7,8,9,10,11,12,13,14,15,16,17,18,19,20,21],"range":["#0000bc","#0828e0","#0060e8","#0090e8","#00b8f0","#00e8ff","#00d8d0","#00d0a8","#00d080","#00d850","#00e400","#00e800","#00e400","#20e400","#70e000","#b8e000","#f0e000","#f8b800","#f89800","#f86000","#f83000","#e00000"]}}}},
{"transform":[{"filter":"datum.s=='l'"}],"mark":{"type":"line","strokeWidth":0,"fill":"#ffffff","fillOpacity":0.2,"interpolate":"cardinal-closed"},"encoding":{"order":{"value":null},"detail":{"field":"s"}}},
{"transform":[{"filter":"datum.s=='r'"}],"mark":{"type":"line","strokeWidth":0,"fill":"#000000","fillOpacity":0.1,"interpolate":"cardinal-closed"},"encoding":{"order":{"value":null},"detail":{"field":"s"}}},
{"transform":[{"filter":"datum.c=='a'"}],"mark":{"type":"text","fontSize":7.5,"color":"#111"},"encoding":{"text":{"field":"t"}}},
{"transform":[{"filter":"datum.c=='z'"}],"mark":{"type":"text","fontSize":10,"color":"#222"},"encoding":{"text":{"field":"t"}}},
{"transform":[{"filter":"datum.c=='A'"}],"mark":{"type":"text","fontSize":8.5,"fontWeight":"bold","angle":333,"color":"#111"},"encoding":{"text":{"field":"t"}}},
{"transform":[{"filter":"datum.c=='Z'"}],"mark":{"type":"text","fontSize":9,"fontWeight":"bold","angle":300,"color":"#111"},"encoding":{"text":{"field":"t"}}},
{"transform":[{"filter":"datum.c=='d'"}],"mark":{"type":"text","fontSize":13,"font":"Liberation Serif","color":"#000"},"encoding":{"text":{"field":"t"}}}
]}},
{"width":550,"height":50,
"encoding":{"x":{"field":"lv","type":"quantitative","axis":null,"scale":{"domain":[-23.76,44.47],"nice":false,"zero":false}}},
"layer":[
{"data":{"values":[{"t":"(e)","lv":10.6}]},"mark":{"type":"text","fontSize":13,"font":"Liberation Serif","color":"#000"},"encoding":{"y":{"datum":12,"type":"quantitative","axis":null,"scale":{"domain":[50,0],"nice":false,"zero":false}},"text":{"field":"t"}}},
{"data":{"values":[{"k":0,"lv":-0.5,"hi":0},{"k":1,"lv":0,"hi":1},{"k":2,"lv":1,"hi":2},{"k":3,"lv":2,"hi":3},{"k":4,"lv":3,"hi":4},{"k":5,"lv":4,"hi":5},{"k":6,"lv":5,"hi":6},{"k":7,"lv":6,"hi":7},{"k":8,"lv":7,"hi":8},{"k":9,"lv":8,"hi":9},{"k":10,"lv":9,"hi":10},{"k":11,"lv":10,"hi":11},{"k":12,"lv":11,"hi":12},{"k":13,"lv":12,"hi":13},{"k":14,"lv":13,"hi":14},{"k":15,"lv":14,"hi":15},{"k":16,"lv":15,"hi":16},{"k":17,"lv":16,"hi":17},{"k":18,"lv":17,"hi":18},{"k":19,"lv":18,"hi":19},{"k":20,"lv":19,"hi":20},{"k":21,"lv":20,"hi":20.5}]},"mark":{"type":"rect"},"encoding":{"x2":{"field":"hi"},"y":{"datum":23,"type":"quantitative","axis":null},"y2":{"datum":33.7},"fill":{"field":"k","type":"ordinal","legend":null,"scale":{"domain":[0,1,2,3,4,5,6,7,8,9,10,11,12,13,14,15,16,17,18,19,20,21],"range":["#0000c8","#0010ff","#0048ff","#0078f0","#00a8ff","#00e8ff","#00fff0","#00f0c0","#00f080","#00f040","#00f000","#00ff00","#00f800","#20f000","#80f000","#c8f000","#ffee00","#ffc000","#ffa000","#ff6800","#ff3800","#e00000"]}}}},
{"data":{"values":[{"lv":0},{"lv":2},{"lv":4},{"lv":6},{"lv":8},{"lv":10},{"lv":12},{"lv":14},{"lv":16},{"lv":18},{"lv":20}]},"mark":{"type":"rule","stroke":"#333","strokeOpacity":0.6,"strokeWidth":0.7},"encoding":{"y":{"datum":23,"type":"quantitative","axis":null},"y2":{"datum":33.7}}},
{"data":{"values":[{"t":"P:","lv":-1.8},{"t":"0","lv":0},{"t":"0.1","lv":2},{"t":"0.2","lv":4},{"t":"0.3","lv":6},{"t":"0.4","lv":8},{"t":"0.5","lv":10},{"t":"0.6","lv":12},{"t":"0.7","lv":14},{"t":"0.9","lv":16},{"t":"1","lv":18},{"t":"1.2","lv":20}]},"mark":{"type":"text","fontSize":8.5,"color":"#222"},"encoding":{"y":{"datum":41,"type":"quantitative","axis":null},"text":{"field":"t"}}}
]}
]}
